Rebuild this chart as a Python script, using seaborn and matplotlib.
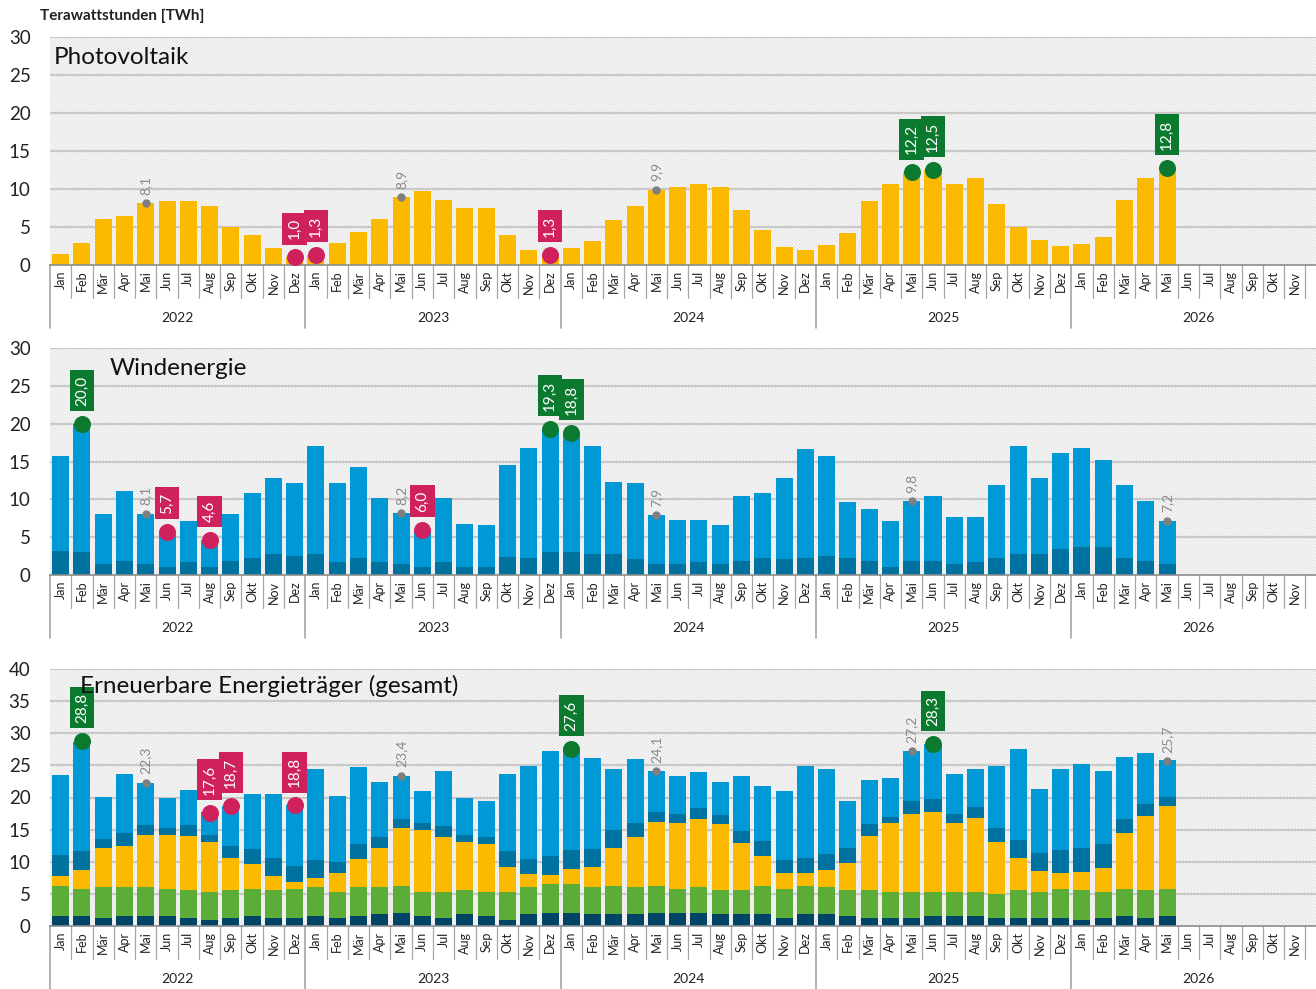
import numpy as np
import pandas as pd
import matplotlib
matplotlib.use("Agg")
import matplotlib.pyplot as plt
from matplotlib.patches import Rectangle
import seaborn as sns

# month / year axis
months = ["Jan", "Feb", "Mär", "Apr", "Mai", "Jun", "Jul", "Aug", "Sep", "Okt", "Nov", "Dez"]
years = [2022, 2023, 2024, 2025, 2026]

# Photovoltaik [TWh], Jan 2022 .. Mai 2026
pv = [1.5, 2.9, 6.0, 6.4, 8.1, 8.4, 8.4, 7.8, 5.0, 3.9, 2.2, 1.0,
      1.3, 2.9, 4.4, 6.1, 8.9, 9.7, 8.6, 7.5, 7.5, 3.9, 2.0, 1.3,
      2.2, 3.1, 5.9, 7.8, 9.9, 10.2, 10.6, 10.2, 7.3, 4.6, 2.4, 2.0,
      2.6, 4.2, 8.4, 10.7, 12.2, 12.5, 10.7, 11.5, 8.0, 5.0, 3.3, 2.5,
      2.8, 3.7, 8.6, 11.5, 12.8]

# Windenergie gesamt and offshore share [TWh]
wind = [15.7, 20.0, 8.0, 11.1, 8.1, 5.7, 7.2, 4.6, 8.0, 10.9, 12.8, 12.1,
        17.0, 12.1, 14.3, 10.2, 8.2, 6.0, 10.2, 6.8, 6.6, 14.5, 16.8, 19.3,
        18.8, 17.0, 12.3, 12.1, 7.9, 7.3, 7.3, 6.6, 10.5, 10.9, 12.8, 16.6,
        15.7, 9.6, 8.7, 7.1, 9.8, 10.5, 7.6, 7.6, 11.9, 17.0, 12.8, 16.1,
        16.8, 15.2, 11.9, 9.8, 7.2]
wind_off = [3.2, 3.0, 1.5, 1.9, 1.5, 1.1, 1.7, 1.0, 1.9, 2.3, 2.8, 2.5,
            2.8, 1.7, 2.3, 1.7, 1.5, 1.1, 1.7, 1.1, 1.1, 2.4, 2.3, 3.0,
            3.0, 2.8, 2.8, 2.1, 1.5, 1.5, 1.7, 1.5, 1.9, 2.3, 2.1, 2.3,
            2.5, 2.3, 1.9, 1.0, 1.9, 1.9, 1.5, 1.7, 2.3, 2.8, 2.8, 3.5,
            3.7, 3.7, 2.3, 1.9, 1.5]

# Wasserkraft and Biomasse [TWh]
hydro = [1.5, 1.5, 1.3, 1.5, 1.5, 1.5, 1.3, 1.0, 1.3, 1.5, 1.3, 1.3,
         1.5, 1.3, 1.5, 1.8, 2.1, 1.5, 1.3, 1.8, 1.5, 1.0, 1.8, 2.1,
         2.1, 1.8, 1.8, 1.8, 2.1, 2.1, 2.1, 1.8, 1.8, 1.8, 1.3, 1.8,
         1.8, 1.5, 1.3, 1.3, 1.3, 1.5, 1.5, 1.5, 1.3, 1.3, 1.3, 1.3,
         1.0, 1.3, 1.5, 1.3, 1.5]
biomass = [4.8, 4.3, 4.8, 4.6, 4.6, 4.3, 4.3, 4.3, 4.3, 4.3, 4.3, 4.5,
           4.6, 4.0, 4.6, 4.3, 4.2, 3.8, 4.0, 3.8, 3.8, 4.3, 4.3, 4.5,
           4.5, 4.3, 4.5, 4.3, 4.2, 3.7, 4.0, 3.8, 3.8, 4.5, 4.5, 4.5,
           4.3, 4.1, 4.3, 4.0, 4.0, 3.8, 3.8, 3.8, 3.7, 4.3, 4.0, 4.5,
           4.6, 4.0, 4.3, 4.3, 4.3]

# highlighted values: (month index, value)
pv_may = [(4, 8.1), (16, 8.9), (28, 9.9)]
pv_low = [(11, 1.0), (12, 1.3), (23, 1.3)]
pv_high = [(40, 12.2), (41, 12.5), (52, 12.8)]
wind_may = [(4, 8.1), (16, 8.2), (28, 7.9), (40, 9.8), (52, 7.2)]
wind_low = [(5, 5.7), (7, 4.6), (17, 6.0)]
wind_high = [(1, 20.0), (23, 19.3), (24, 18.8)]
tot_may = [(4, 22.3), (16, 23.4), (28, 24.1), (40, 27.2), (52, 25.7)]
tot_low = [(7, 17.6), (8, 18.7), (11, 18.8)]
tot_high = [(1, 28.8), (24, 27.6), (41, 28.3)]

C_PV = "#fbb900"
C_ON = "#0099d6"
C_OFF = "#00729f"
C_HYD = "#004566"
C_BIO = "#5cac38"
C_LOW = "#d0215f"
C_HIGH = "#0b7a2f"
C_GRAY = "#8a8a8a"

sns.set_theme(style="white")
plt.rcParams["font.family"] = ["Lato", "DejaVu Sans"]
plt.rcParams["hatch.linewidth"] = 0.8

keys = [f"{y}-{m:02d}" for y in years for m in range(1, 13)]
n = len(pv)
# the last month (Dez 2026) is cut off by the right edge in the original
tick_labels = months * 5
tick_labels[-1] = ""

W, H = 1316, 989
fig = plt.figure(figsize=(W / 100, H / 100), dpi=100)

# axes in pixels: (top, zero line)
panels = [(37, 265, 30), (348, 575, 30), (669, 926, 40)]
axes = []
for top, zero, ymax in panels:
    ax = fig.add_axes([50 / W, 1 - zero / H, 1 - 50 / W, (zero - top) / H])
    axes.append(ax)


def stacked(ax, layers):
    # layers: list of (values, color) from bottom to top; draw cumulative sums top-down
    cum = np.cumsum(np.array([v for v, c in layers]), axis=0)
    for k in range(len(layers) - 1, -1, -1):
        df = pd.DataFrame({"key": keys[:n], "val": cum[k]})
        sns.barplot(data=df, x="key", y="val", order=keys, color=layers[k][1],
                    saturation=1, errorbar=None, width=0.8, ax=ax, zorder=3,
                    linewidth=0)


onshore = list(np.array(wind) - np.array(wind_off))
stacked(axes[0], [(pv, C_PV)])
stacked(axes[1], [(wind_off, C_OFF), (onshore, C_ON)])
stacked(axes[2], [(hydro, C_HYD), (biomass, C_BIO), (pv, C_PV), (wind_off, C_OFF), (onshore, C_ON)])

titles = [("Photovoltaik", 54, 58), ("Windenergie", 110, 368),
          ("Erneuerbare Energieträger (gesamt)", 80, 686)]
marks = [(pv_may, pv_low, pv_high), (wind_may, wind_low, wind_high),
         (tot_may, tot_low, tot_high)]


def fmt(v):
    return f"{v:.1f}".replace(".", ",")


for ax, (top, zero, ymax), (title, tx, ty), (may, low, high) in zip(axes, panels, titles, marks):
    hpx = zero - top
    ax.set_xlim(-0.5, 58.7)
    ax.set_ylim(0, ymax)
    ax.set_yticks(range(0, ymax + 1, 5))
    ax.set_yticklabels([str(t) for t in range(0, ymax + 1, 5)])
    ax.tick_params(axis="y", length=0, pad=14, labelsize=13.5, labelcolor="#222222")
    ax.set_xticks(range(60))
    ax.set_xticklabels(tick_labels, rotation=90)
    ax.tick_params(axis="x", length=0, pad=4, labelsize=9, labelcolor="#222222")
    ax.set_xlabel("")
    ax.set_ylabel("")
    ax.set_facecolor("#fbfbfb")
    ax.add_patch(Rectangle((0, 0), 1, 1, transform=ax.transAxes, facecolor="none",
                           edgecolor="#e2e2e2", hatch="/" * 10, lw=0, zorder=0))
    for t in range(5, ymax + 1, 5):
        ax.axhline(t, color="#c9c9c9", lw=1.6, zorder=1)
    for s in ["left", "right", "top"]:
        ax.spines[s].set_visible(False)
    ax.spines["bottom"].set_color("#8c8c8c")
    ax.spines["bottom"].set_linewidth(1.2)
    ax.spines["bottom"].set_zorder(5)

    # month / year separators below the axis
    tr = ax.get_xaxis_transform()
    for b in range(61):
        depth = 63 if b % 12 == 0 else 33
        ax.plot([b - 0.5, b - 0.5], [0, -depth / hpx], transform=tr, color="#a6a6a6",
                lw=1.2 if b % 12 == 0 else 0.9, clip_on=False, zorder=2)
    for i, y in enumerate(years):
        ax.text(i * 12 + 5.5, -53 / hpx, str(y), transform=tr, ha="center", va="center",
                fontsize=10, color="#222222")

    ax.text((tx - 50) / (W - 50), (zero - ty) / hpx, title, transform=ax.transAxes,
            ha="left", va="center", fontsize=17.5, color="#111111", zorder=10)

    # May values: grey dot + grey label
    ax.scatter([p[0] for p in may], [p[1] for p in may], s=36, color="#7f7f7f", zorder=6,
               linewidths=0)
    for x, v in may:
        ax.annotate(fmt(v), (x, v), xytext=(0, 6), textcoords="offset points", rotation=90,
                    ha="center", va="bottom", fontsize=10, color=C_GRAY, zorder=6)
    # records: coloured circle + coloured box
    for pts, col in [(low, C_LOW), (high, C_HIGH)]:
        ax.scatter([p[0] for p in pts], [p[1] for p in pts], s=150, color=col, zorder=6,
                   linewidths=0)
        for x, v in pts:
            ax.annotate(fmt(v), (x, v), xytext=(0, 13), textcoords="offset points",
                        rotation=90, ha="center", va="bottom", fontsize=11, color="white",
                        zorder=7,
                        bbox=dict(boxstyle="square,pad=0.35", fc=col, ec="none"))

fig.text(40 / W, 1 - 16 / H, "Terawattstunden [TWh]", ha="left", va="center",
         fontsize=11, fontweight="bold", color="#222222")

fig.savefig("out.png", dpi=100)
